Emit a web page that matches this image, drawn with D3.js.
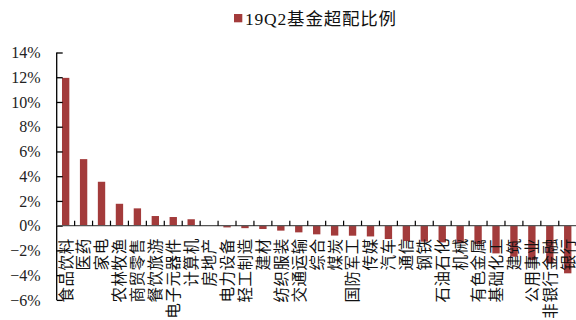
<!DOCTYPE html>
<html><head><meta charset="utf-8">
<script src="https://cdn.jsdelivr.net/npm/d3@7"></script>
<style>
html,body{margin:0;padding:0;background:#fff;}
svg{display:block;}
</style></head>
<body>
<svg id="chart" width="576" height="320"></svg>
<script>
const seriesName = "19Q2基金超配比例";
const categories = ["食品饮料","医药","家电","农林牧渔","商贸零售","餐饮旅游","电子元器件","计算机","房地产","电力设备","轻工制造","建材","纺织服装","交通运输","综合","煤炭","国防军工","传媒","汽车","通信","钢铁","石油石化","机械","有色金属","基础化工","建筑","公用事业","非银行金融","银行"];
const values = [11.95,5.38,3.55,1.77,1.4,0.78,0.7,0.52,0.02,-0.14,-0.2,-0.27,-0.4,-0.54,-0.7,-0.8,-0.81,-0.87,-1.08,-1.24,-1.29,-1.35,-1.42,-1.5,-2.24,-2.51,-2.78,-3.04,-3.85];
const yTicks = [-6,-4,-2,0,2,4,6,8,10,12,14];

const svg = d3.select("#chart");
const serif = "'Liberation Serif','Times New Roman','Noto Sans CJK SC',serif";
const cjk = "'Liberation Serif','Noto Sans CJK SC',serif";
const barColor = "#A33B3B";

const x0 = 56.7, x1 = 576.7;
const x = d3.scaleBand().domain(categories).range([x0, x1]).paddingInner(0.59).paddingOuter(0.295);
const y = d3.scaleLinear().domain([-6, 14]).range([299.9, 52.5]);
const step = x.step();

// bars
svg.append("g").selectAll("rect").data(categories).join("rect")
  .attr("x", d => x(d))
  .attr("width", x.bandwidth())
  .attr("y", (d,i) => y(Math.max(0, values[i])))
  .attr("height", (d,i) => Math.abs(y(values[i]) - y(0)))
  .attr("fill", barColor);

// y axis
const fmt = d3.format("d");
const yAxis = d3.axisLeft(y).tickValues(yTicks).tickSize(-6).tickPadding(16)
  .tickFormat(d => fmt(d) + "%");
const gy = svg.append("g").attr("transform", `translate(${x0},0)`).call(yAxis);
gy.select(".domain").attr("stroke", "#000").attr("stroke-width", 1.3).attr("d", `M0,${y(-6)}V${y(14)}`);
gy.selectAll(".tick line").attr("stroke", "#000").attr("stroke-width", 1.3);
gy.selectAll(".tick text").attr("font-family", serif).attr("font-size", 16).attr("fill", "#222");

// zero line with category boundary ticks
const gx = svg.append("g");
gx.append("line").attr("x1", x0).attr("x2", x1).attr("y1", y(0)).attr("y2", y(0))
  .attr("stroke", "#555").attr("stroke-width", 1.3);
gx.selectAll("line.tk").data(categories).join("line").attr("class","tk")
  .attr("x1", d => x(d) + x.bandwidth()/2 + step/2)
  .attr("x2", d => x(d) + x.bandwidth()/2 + step/2)
  .attr("y1", y(0)).attr("y2", y(0) - 5)
  .attr("stroke", "#000").attr("stroke-width", 1.2);

// category labels (rotated)
svg.append("g").selectAll("text").data(categories).join("text")
  .attr("transform", d => `translate(${x(d) + x.bandwidth()/2},${y(0) + 12.5}) rotate(-90)`)
  .attr("text-anchor", "end")
  .attr("dy", "0.38em")
  .attr("font-family", cjk).attr("font-size", 15.5).attr("letter-spacing", "0.6px").attr("fill", "#111")
  .text(d => d);

// legend
const lg = svg.append("g");
lg.append("rect").attr("x", 234).attr("y", 14).attr("width", 8.3).attr("height", 8.3).attr("fill", barColor);
lg.append("text").attr("x", 245).attr("y", 25).attr("font-family", cjk).attr("font-size", 17.5)
  .attr("letter-spacing", "0.8px").attr("fill", "#111")
  .text(seriesName);
</script>
</body></html>
